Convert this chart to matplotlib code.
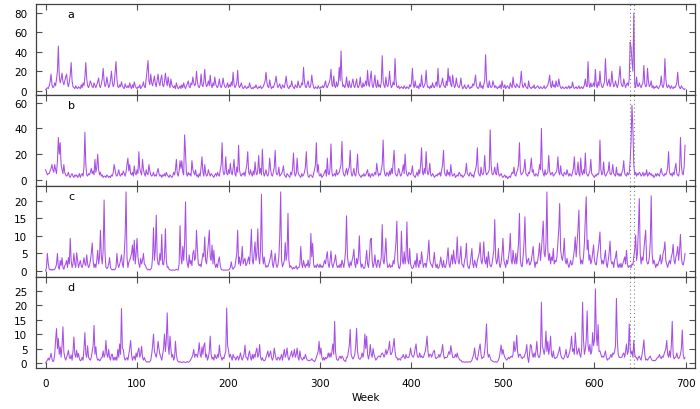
import numpy as np
import matplotlib.pyplot as plt

# weekly values, one row = 10 weeks
panel_a = np.array("""
1 2 3 2 5 9 17 6 3 4
8 5 12 20 46 15 8 12 18 9
6 10 14 17 8 4 9 16 29 10
4 3 2 5 3 2 4 3 2 6
3 8 5 14 29 12 5 3 6 10
7 4 3 8 5 3 6 9 13 5
3 7 12 23 10 4 6 14 8 3
5 11 20 9 4 7 18 30 12 4
3 6 4 9 5 3 2 7 4 3
5 3 8 4 2 6 3 9 5 3
2 4 3 6 2 4 5 9 4 3
12 20 31 10 6 17 8 5 10 15
7 4 11 17 8 5 12 16 6 4
9 18 10 5 14 7 3 12 6 4
3 5 2 8 4 2 3 5 2 6
3 8 4 2 5 7 10 4 3 8
6 14 8 5 7 20 9 4 3 6
17 6 4 9 22 8 4 6 10 5
16 6 3 8 5 14 7 4 3 6
12 5 3 6 13 7 4 3 5 8
3 6 4 9 5 19 7 3 5 8
21 6 3 5 8 4 2 3 5 3
2 4 3 8 4 2 3 2 4 3
6 3 2 4 3 5 2 3 4 7
10 19 8 4 3 11 5 2 4 3
6 9 15 7 3 5 7 3 2 6
4 3 8 15 6 3 2 5 4 10
5 3 2 6 4 3 10 5 3 4
8 6 24 9 4 3 7 10 4 3
6 16 8 3 2 4 3 2 5 3
2 4 3 5 3 6 10 4 3 6
8 12 22 6 4 15 5 3 9 4
7 24 10 41 12 4 6 3 5 14
6 3 10 4 3 8 12 5 3 7
12 4 3 6 14 5 3 8 4 6
10 5 21 7 4 13 20 6 3 8
16 5 3 11 4 6 3 9 36 10
5 3 14 6 4 8 20 7 3 5
9 6 33 11 4 3 5 2 3 4
3 2 5 3 2 4 3 2 6 4
8 23 6 3 10 4 3 5 2 7
4 16 6 3 5 8 21 6 3 4
2 5 3 8 4 3 6 9 4 23
7 3 5 8 13 6 4 3 10 5
23 9 15 6 4 16 8 3 5 13
6 4 3 6 13 5 2 3 6 3
2 4 6 3 2 4 3 7 5 9
16 5 3 2 4 9 3 5 2 6
10 37 12 4 3 10 5 3 4 10
6 3 5 3 2 4 3 6 2 10
4 3 6 2 4 5 3 2 8 5
3 14 6 4 3 7 5 4 3 9
20 7 3 5 8 4 3 2 10 4
3 2 4 3 6 2 3 4 5 3
2 4 3 2 3 5 2 3 4 6
9 16 5 3 10 4 6 3 10 5
4 12 6 3 2 4 3 2 3 4
2 3 5 2 4 3 9 4 2 3
4 2 3 5 2 3 4 2 3 6
12 5 4 30 7 3 8 4 5 8
4 22 6 3 9 5 20 8 4 3
6 9 33 12 5 8 12 4 7 20
9 4 5 10 6 3 7 15 25 8
5 4 12 7 3 6 8 5 12 50
45 30 20 80 6 3 14 5 4 8
5 3 6 8 26 7 4 5 23 9
4 6 10 3 5 2 4 3 5 3
2 4 6 15 5 3 7 33 12 4
3 6 4 2 5 3 2 4 3 5
8 19 6 3 2 5 3 2 1 2
""".split(), dtype=float)

panel_b = np.array("""
8 6 4 5 5 7 9 12 8 6
12 8 5 15 33 20 29 12 8 5
12 6 4 3 4 6 3 2 4 5
3 2 4 3 4 2 3 5 2 4
5 3 10 37 12 4 3 5 4 6
9 5 7 4 16 6 10 20 8 4
6 3 4 2 3 3 2 4 3 2
3 2 4 3 6 12 8 4 3 5
8 4 3 5 4 7 5 3 6 12
17 7 12 5 4 6 3 11 5 4
8 5 22 9 6 4 16 8 5 3
8 5 4 12 7 4 3 4 6 3
4 3 6 9 5 3 4 2 4 3
5 3 6 4 3 2 4 3 2 3
6 4 8 16 5 3 7 15 9 15
6 4 35 21 5 3 6 4 5 3
15 8 6 4 8 3 4 2 5 3
10 18 6 3 12 5 3 4 8 5
3 5 4 3 2 4 5 3 6 4
3 8 12 29 7 4 6 18 5 4
8 5 13 6 4 9 16 5 3 10
6 27 8 4 3 5 4 6 3 8
12 22 6 4 8 5 3 7 4 14
6 4 8 19 5 9 4 24 7 3
5 8 4 3 6 17 8 4 3 6
10 23 6 4 5 10 3 4 5 7
11 4 3 2 5 4 3 2 6 4
9 21 6 3 5 17 6 4 3 2
5 3 4 6 10 22 7 3 2 4
4 3 2 5 8 12 29 6 12 4
3 5 2 3 4 6 8 3 17 5
4 9 28 6 3 4 5 3 8 4
5 6 9 12 30 7 4 3 6 9
4 8 10 23 6 3 5 9 4 3
8 20 6 4 3 2 4 3 5 3
4 6 8 3 5 2 4 5 3 4
6 4 13 7 3 5 4 8 12 31
8 4 3 6 5 3 7 4 9 5
14 23 6 4 3 5 9 6 3 4
7 12 5 20 8 4 3 6 5 4
6 11 4 3 2 4 6 3 8 5
12 25 6 4 9 5 22 8 4 6
13 4 3 5 4 2 3 4 3 5
4 6 3 8 12 23 6 4 3 8
4 6 3 12 5 3 4 5 2 3
4 3 6 5 3 4 2 3 4 6
13 5 4 3 6 5 3 4 2 6
8 12 25 6 4 3 10 5 4 6
19 7 4 5 6 8 39 12 5 4
6 10 5 4 13 6 3 4 5 3
2 3 4 2 3 1 2 3 2 4
6 5 10 4 3 6 8 12 29 7
4 5 6 9 16 5 4 3 6 5
10 17 6 8 4 3 5 4 3 6
12 8 40 9 5 3 8 4 5 6
19 7 4 5 6 3 4 5 6 8
18 6 4 11 5 4 3 6 5 4
8 5 3 5 4 3 6 9 18 5
4 6 14 5 3 17 6 4 8 5
21 6 4 3 5 7 16 5 4 3
2 4 3 5 4 6 31 8 4 5
14 5 3 4 6 7 14 5 4 6
12 5 4 3 10 4 5 3 5 3
6 8 15 5 4 3 6 4 5 15
30 58 40 12 4 6 3 5 4 6
5 3 4 6 3 5 4 8 3 4
6 4 5 3 4 2 3 5 3 5
4 3 6 9 5 4 3 5 4 6
10 22 6 4 5 3 6 4 9 13
5 4 3 8 33 12 5 4 10 27
""".split(), dtype=float)

panel_c = np.array("""
0 1 5 2 0.5 0.3 0.5 0.2 0.5 0.3
0.5 1 2 5 1 0.5 3 1.5 3.8 1
0.5 1.5 2 3 1 3.8 2 9.3 3 1
2 5 2 1 5.2 3 1 2 3 1.5
1 2 3.8 2 1.5 4.6 2 1 1.5 3
5 8 3 1 2 1 3 5.9 2 4
11.6 4 2 6 20.2 5 1 0.7 1 2
3.8 1 0.5 0.3 0.5 0.3 0.5 1 5 2
1 2 3 4.6 2 1 5 10 22.5 4
1 2.5 3 4 5 7.4 3 8.8 2 5
9.3 4 2 1 3.6 2 3 5 2 1.7
1 0.5 0.3 0.5 0.3 0.5 1 4 12.3 3
6 15.9 4 2 1.7 5 3 10.4 2 1.7
4 12 3 1 1.2 0.5 0.3 0.3 0.2 0.3
0.3 0.2 0.3 0.5 0.3 0.3 2 12.9 4 2
7 3 8 19.7 4 2 1 4.6 2 3
1.5 5 5.9 3 4 11.6 6 2 1.5 1.9
1.2 3 5 4 9.7 3 2 5 8 11.6
4 3 7.4 2 5.9 2 1 2 1 3
4 1.5 0.5 0.3 0.3 0.2 0.3 0.3 0.2 0.3
0.3 0.5 1 2.6 1 0.5 1 1.2 3 5
11.6 2 4 1.5 3 7 2 3 3.6 1.5
2 3 4 2 6 11.9 3 2 5 8.3
3 5 12 4 2 6 21.8 5 2 4
2 1 1.5 1.2 2 3 4 5.9 2 1
3 5 2 1 1.7 4 10 22.5 3 1.2
2 3 8.1 3 5 16.4 3 1 1.5 1
0.5 1 0.7 1 1.5 0.5 1 1 2 7
2 1 3 1.7 1 2 1.5 3.1 1 2
10.7 4 7.9 2 1 1.5 1 2 1.5 1
2 1 1.5 1 2 3 2 4 5.5 2
1 3 5.7 2 1 2 3 4.6 2 1
1.5 1 2 1 3.1 2 1 3 6 15.7
4 2 1 2.6 1.5 3 4 6.2 2 1
3.6 2 4 10 3 1 2 1.2 0.7 1
3 5.9 2 1 4 8.8 9.3 3 1 2
4.6 2 1 3 3.1 1 2 4 13.2 3
2 5 9.3 3 1 1.2 2 1 1.5 1.2
3 2 5 8 14.2 3 1 0.7 2 11.3
3 2 5.5 2 4 14 3 2 6.4 2
1 0.7 1 2 3 1 5 2 1 3
2 5.5 3 1 2 2.2 1 3 5 8.8
3 2 1.7 1 3 5.3 2 1 2 0.7
1 2 4 2 1 3 1.2 1 2 4
6.6 2 1 3 4.6 2 5.9 3 2 4
9.7 3 2 4 7 2 1.7 1 3 4
7.9 2 1 0.7 2 4 6.4 2 1 3.1
2 1 3 4 5 8.1 3 2 4 8.3
3 2 4 1 5.5 3 1.5 1.2 2 4
6 14.6 4 2 3 6.4 2 1 2.4 5
9.3 3 2 1 3.1 2 4 6 10.7 3
2 5.9 3 2 5 2 4.6 8 16.4 3
1.5 1.2 4 8 15.4 5 2 3 3.6 1.7
2 3 5 7 3 1 2.6 2 3 5
7.9 3 6 10 14.2 5 4 8 22.5 6
3 5 2 4 3 6.4 2 3 2.6 4
8 12 19.2 6 4 3 5 9.3 3 2
3.6 2 1 2 3 1.7 2 4 6 9.7
4 8 12 17.3 5 2 3.1 2 4 8
15 21.1 6 8.8 3 4.6 2 3 5 7.4
3 2 1.7 4 6 8 11.1 4 2 3
2 4 5.9 2 1 3 5 8.5 3 2
2.6 1 3 4 5.7 2 1 2 1 2.2
1 2 3 4 2 5.9 2 1 1.5 1.2
1 2 1.7 4 6 10.2 3 5 12 20.6
5 2 4 3 6 9 11.6 3 2 2.2
4 8 21.4 5 2 3.1 2 1 2 1.5
2.4 3 4.6 2 3 5 6 8.3 3 2
1 2.2 3 2 4 5 7.6 3 2 4
5 7 3 6 10.4 4 2 1.7 3 5
""".split(), dtype=float)

panel_d = np.array("""
0 0.5 1 1.7 1 2 3.4 1.5 0.5 0.8
3 8 11.9 5 8.5 3 5.6 2 6 12.5
4 1.9 1 2 3 4.4 2 1.5 2.8 1
4 9 3 2 4.4 2 3.3 1.5 0.8 1
2 1 5 10.5 3 2 6 2 1.4 1
2 4 6 13 3 5.6 2 1 1.4 0.8
1 1.9 2 4.2 2 3 7.8 3 2 4.7
2 1 3 3 1 2 1 2.1 1 4.7
2 6.6 3 18.8 5 4.7 2 1 1.5 1.9
1 3 5 7.8 3 1 2 2.4 1 3.5
2 4 5.2 2 3 5.8 2 1 1.9 1
0.5 0.3 0.5 0.3 0.5 1 3 6 10 4
3 2 4 7.5 5 3 2.1 1 3 5
10 4 8 17.3 6 3 9.3 5 2 3
1 2 7.5 3 1 0.5 0.3 0.5 0.3 0.2
0.3 0.5 0.3 0.2 0.3 0.5 0.3 0.4 0.8 1.4
2 3 4.7 2 3 3 2 4 7 3
2 5.6 3 6 7 2 3 1 2 4
9.3 3 1.4 2 1 3 2 1.5 3 2
6.2 3 1.9 1 2 1.5 3 4 19 6
4.4 2 3 2 1 3 2 1.9 1 2
2.4 1 2 3.5 2 1 2 3 6.2 2
1.9 1 3 4.2 2 1 3 1.5 3 2
4 5.2 2 3 6.4 2 1 1.9 1 0.8
1 2 3 4.2 2 3 4.2 1.9 1 2
5.2 3 1.4 1 2 1.9 1 2 3 1
3 4.7 2 3 5.2 2 1 2 3 4.2
2 3 4.7 2 3 5.2 2 1 4.2 2
1.4 1 2 1.5 3 2 1 1 0.8 1
1 1.5 1 0.8 0.5 1 2 3 4 7.5
3 5.2 2 1 1.9 1 2 1.5 2 3.5
2 3.5 2 4 6.6 3 14.4 4 1.4 1
1 2 2.4 1.5 2.4 2 1 0.8 0.5 2
2 4 6 11.6 3 2 1.4 2 3 6
12 4 2 1.4 1.4 2 3.5 2 4 10
5 9.3 3 1.4 3 6.4 3 2 5 3
2 1 1.5 2 2.4 2.4 2 3 3.5 3
2 3 4.7 3 4 5 7.5 3 3 4
6 8.5 4 2 1.9 1 1.5 1.4 1 2
2 3 2 1.5 3 2 1.9 2 3 5.2
3 2.4 2 3 5 6.6 3 2 2 3.5
2 2.5 1.9 2 3 4 6 9.3 4 2
3 3 2 3 4 4.4 2 1.5 1.9 2
3 2 3 4 6.4 3 1.5 2 1.9 2
3 4 3 6 4 2 1.9 2 3 2
3.5 2 1.5 1 1 0.5 0.3 0.5 0.3 0.3
0.5 0.3 0.3 0.5 0.3 0.5 1 2 3 5.2
2 1.5 1 3 5 6.6 3 1.5 1.9 2
4 8 13.5 4 2 3 2 1 0.8 0.5
0.5 0.3 0.5 0.3 0.5 1 2 4 6.2 3
4.7 3 2 1.5 1 1.4 2 1.5 2 2.4
2 3 7.5 4 5 9.6 4 2 3 3
2 1.5 2.1 2 3 4 6.4 2 0.2 3
6.4 6 3 2 3.5 2 4 7.5 3 2
2 4 21 6 4.7 3 5 11 4 7.5
3 5 9.3 3 2 4.2 2 1.5 1.9 2
3 4 5.6 3 2 1.5 1.4 2 3 4.7
2 1.9 3 4 6 9.3 4 5 3 10.5
6 3 4 5.2 3 2 5 21 8 3
4.7 8 18 6 4 6.4 3 4 10.5 6
8 25.6 10 6 13.3 4 4.2 3 2 2.4
2 3 4.2 2 1 1.5 1.4 2 3 2
3.5 3 4 6 22.3 8 3 2 1.9 2
2 3 3.5 2 4 6.6 3 4 13.5 5
3 4.2 2 7.8 3 2 1.9 1 2 2.4
1.5 1 3 5 8 3 1 1.4 1 1.5
2 2.4 1.5 1 0.8 1 0.8 1 1.5 2
2 3 2 1.5 2.4 2 3 4 5 7.8
3 2 4.2 2 6 14.4 3 1.4 2 2
3.5 2 1.5 2 3 5 11.4 3 1.4 1.9
""".split(), dtype=float)

weeks = np.arange(len(panel_a))
series = [panel_a, panel_b, panel_c, panel_d]
labels = ['a', 'b', 'c', 'd']
y_ticks = [[0, 20, 40, 60, 80], [0, 20, 40, 60],
           [0, 5, 10, 15, 20], [0, 5, 10, 15, 20, 25]]
y_limits = [(-4.5, 89.5), (-4.6, 66), (-1.7, 24.2), (-1.7, 29.7)]
marker_weeks = [639, 643.5]

plt.rcParams['font.family'] = 'DejaVu Sans'
fig, axes = plt.subplots(4, 1, figsize=(7, 4.1), dpi=100, sharex=True)
fig.subplots_adjust(left=0.052, right=0.993, top=0.988, bottom=0.1, hspace=0)

for ax, y, lab, yt, yl in zip(axes, series, labels, y_ticks, y_limits):
    ax.plot(weeks, y, color='#a64ee6', lw=0.75)
    for w in marker_weeks:
        ax.axvline(w, color='#808080', ls=(0, (1, 2.5)), lw=0.8)
    ax.set_ylim(*yl)
    ax.set_yticks(yt)
    ax.set_xlim(-10, 710)
    ax.set_xticks(range(0, 701, 100))
    ax.text(0.053, 0.89, lab, transform=ax.transAxes, va='center',
            ha='center', fontsize=8)
    ax.tick_params(direction='in', top=True, right=True, length=4,
                   width=0.8, color='#505050', labelsize=7.5, pad=6.5)
    ax.tick_params(axis='x', pad=7)
    for s in ax.spines.values():
        s.set_color('#404040')
        s.set_linewidth(0.9)

axes[-1].set_xlabel('Week', fontsize=7.5, labelpad=3)

fig.savefig('out.png', dpi=100)
